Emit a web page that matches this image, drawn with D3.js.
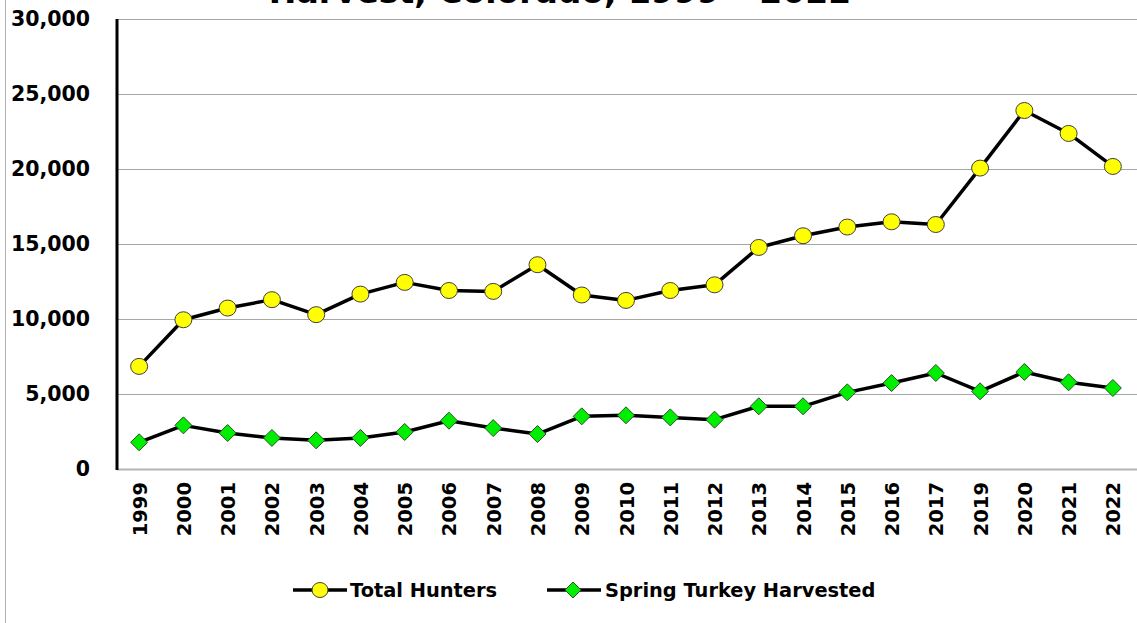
<!DOCTYPE html>
<html><head><meta charset="utf-8">
<script src="https://cdn.jsdelivr.net/npm/d3@7"></script>
<style>
html,body{margin:0;padding:0;background:#fff;}
svg{display:block;}
</style></head>
<body>
<svg id="chart" width="1137" height="623"></svg>
<script>
const years = ["1999","2000","2001","2002","2003","2004","2005","2006","2007","2008","2009","2010","2011","2012","2013","2014","2015","2016","2017","2019","2020","2021","2022"];
const totalHunters = [6840,9950,10730,11290,10290,11660,12440,11900,11840,13620,11600,11240,11900,12280,14770,15550,16130,16480,16300,20060,23900,22370,20170];
const springHarvest = [1780,2910,2400,2070,1910,2070,2470,3220,2730,2330,3510,3580,3440,3290,4180,4180,5110,5730,6400,5180,6470,5780,5400];
const yTicks = [0,5000,10000,15000,20000,25000,30000];
const titleText = "Harvest, Colorado, 1999 – 2022";
const seriesNames = ["Total Hunters","Spring Turkey Harvested"];

const svg = d3.select("#chart");
const W = 1137, H = 623;
const m = {left:117, right:1135, top:19, bottom:469};

const x = d3.scalePoint().domain(years).range([m.left, m.right]).padding(0.5);
const y = d3.scaleLinear().domain([0,30000]).range([m.bottom, m.top]);

// outer left border
svg.append("line").attr("x1",5.5).attr("x2",5.5).attr("y1",0).attr("y2",H)
  .attr("stroke","#b0b0b0").attr("stroke-width",1);

// title (cut off at top, as in the reference)
svg.append("text").attr("x",560).attr("y",2.5).attr("text-anchor","middle")
  .attr("font-family","DejaVu Sans, sans-serif").attr("font-weight","bold").attr("font-size",33)
  .attr("fill","#000").text(titleText);

// gridlines
svg.append("g").selectAll("line").data(yTicks.filter(d=>d>0)).join("line")
  .attr("x1",m.left).attr("x2",W).attr("y1",d=>Math.round(y(d))+0.5).attr("y2",d=>Math.round(y(d))+0.5)
  .attr("stroke","#a6a6a6").attr("stroke-width",1);
// bottom axis line
svg.append("line").attr("x1",m.left).attr("x2",W).attr("y1",m.bottom+0.5).attr("y2",m.bottom+0.5)
  .attr("stroke","#b4b4b4").attr("stroke-width",2);

// y axis
const yAxis = d3.axisLeft(y).tickValues(yTicks).tickFormat(d3.format(",")).tickSize(0).tickPadding(27);
const gy = svg.append("g").attr("transform",`translate(${m.left},0)`).call(yAxis);
gy.select(".domain").remove();
gy.selectAll("text").attr("font-family","DejaVu Sans, sans-serif").attr("font-weight","bold")
  .attr("font-size",20.5).attr("fill","#000");
svg.append("line").attr("x1",m.left).attr("x2",m.left).attr("y1",m.top).attr("y2",m.bottom+1)
  .attr("stroke","#000").attr("stroke-width",3);

// x axis
const xAxis = d3.axisBottom(x).tickSize(0).tickPadding(0);
const gx = svg.append("g").attr("transform",`translate(0,${m.bottom})`).call(xAxis);
gx.select(".domain").remove();
gx.selectAll("text")
  .attr("font-family","DejaVu Sans, sans-serif").attr("font-weight","bold").attr("font-size",19.5)
  .attr("fill","#000")
  .attr("text-anchor","end").attr("dy","0.36em")
  .attr("transform", function(d){ return `translate(0,13) rotate(-90)`; })
  .attr("x",0).attr("y",0);

// lines
const line = d3.line().x((d,i)=>x(years[i])).y(d=>y(d));
svg.append("path").datum(totalHunters).attr("d",line).attr("fill","none")
  .attr("stroke","#000").attr("stroke-width",3.5).attr("stroke-linejoin","round");
svg.append("path").datum(springHarvest).attr("d",line).attr("fill","none")
  .attr("stroke","#000").attr("stroke-width",3.5).attr("stroke-linejoin","round");

// markers
svg.append("g").selectAll("ellipse").data(totalHunters).join("ellipse")
  .attr("cx",(d,i)=>x(years[i])).attr("cy",d=>y(d)).attr("rx",8.5).attr("ry",8)
  .attr("fill","#ffff00").attr("stroke","#3f3f3f").attr("stroke-width",1);
const diamond = (cx,cy,r)=>`M${cx},${cy-r}L${cx+r},${cy}L${cx},${cy+r}L${cx-r},${cy}Z`;
svg.append("g").selectAll("path").data(springHarvest).join("path")
  .attr("d",(d,i)=>diamond(x(years[i]),y(d),8.5))
  .attr("fill","#00ee00").attr("stroke","#2f4f2f").attr("stroke-width",1);

// legend
const lg = svg.append("g").attr("font-family","DejaVu Sans, sans-serif").attr("font-weight","bold").attr("font-size",19.4);
const ly = 590;
// item 1
lg.append("line").attr("x1",293).attr("x2",347).attr("y1",ly).attr("y2",ly).attr("stroke","#000").attr("stroke-width",3.5);
lg.append("ellipse").attr("cx",320).attr("cy",ly).attr("rx",8).attr("ry",7.5).attr("fill","#ffff00").attr("stroke","#3f3f3f");
lg.append("text").attr("x",350).attr("y",ly).attr("dy","0.35em").text(seriesNames[0]);
// item 2
lg.append("line").attr("x1",547).attr("x2",601).attr("y1",ly).attr("y2",ly).attr("stroke","#000").attr("stroke-width",3.5);
lg.append("path").attr("d",diamond(573,ly,8)).attr("fill","#00ee00").attr("stroke","#2f4f2f");
lg.append("text").attr("x",605).attr("y",ly).attr("dy","0.35em").text(seriesNames[1]);
</script>
</body></html>
